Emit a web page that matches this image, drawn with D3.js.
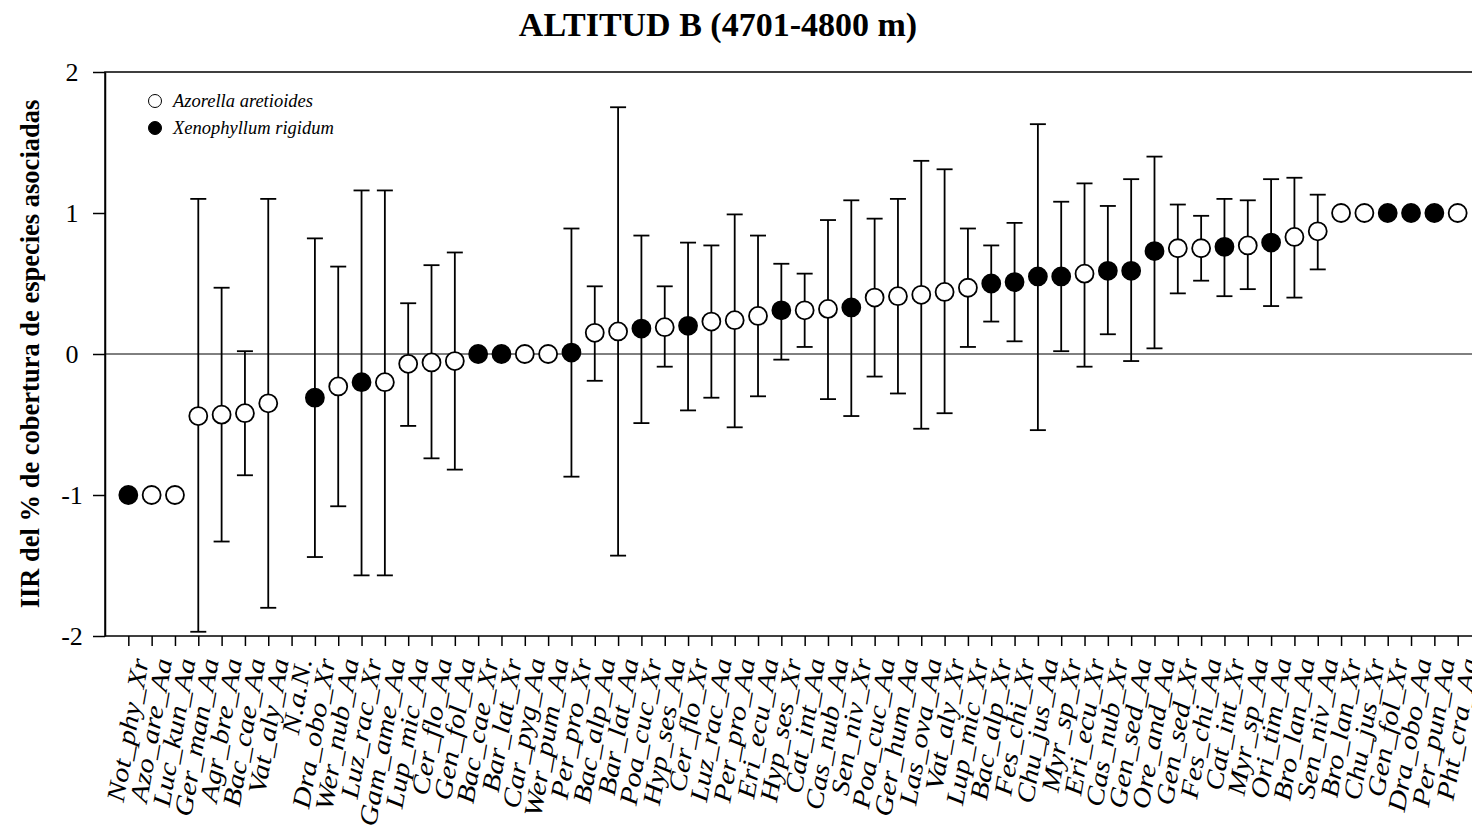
<!DOCTYPE html>
<html>
<head>
<meta charset="utf-8">
<script src="https://cdn.jsdelivr.net/npm/d3@7"></script>
<style>
    body { margin: 0; background: #fff; }
    svg { display: block; }
</style>
</head>
<body>
<div id="chart"></div>
<script>
// Species codes along the x axis (sorted by IIR)
const species = ["Not_phy_Xr", "Azo_are_Aa", "Luc_kun_Aa", "Ger_man_Aa", "Agr_bre_Aa", "Bac_cae_Aa", "Vat_aly_Aa", "N.a.N.",
    "Dra_obo_Xr", "Wer_nub_Aa", "Luz_rac_Xr", "Gam_ame_Aa", "Lup_mic_Aa", "Cer_flo_Aa", "Gen_fol_Aa", "Bac_cae_Xr",
    "Bar_lat_Xr", "Car_pyg_Aa", "Wer_pum_Aa", "Per_pro_Xr", "Bac_alp_Aa", "Bar_lat_Aa", "Poa_cuc_Xr", "Hyp_ses_Aa",
    "Cer_flo_Xr", "Luz_rac_Aa", "Per_pro_Aa", "Eri_ecu_Aa", "Hyp_ses_Xr", "Cat_int_Aa", "Cas_nub_Aa", "Sen_niv_Xr",
    "Poa_cuc_Aa", "Ger_hum_Aa", "Las_ova_Aa", "Vat_aly_Xr", "Lup_mic_Xr", "Bac_alp_Xr", "Fes_chi_Xr", "Chu_jus_Aa",
    "Myr_sp_Xr", "Eri_ecu_Xr", "Cas_nub_Xr", "Gen_sed_Aa", "Ore_and_Aa", "Gen_sed_Xr", "Fes_chi_Aa", "Cat_int_Xr",
    "Myr_sp_Aa", "Ori_tim_Aa", "Bro_lan_Aa", "Sen_niv_Aa", "Bro_lan_Xr", "Chu_jus_Xr", "Gen_fol_Xr", "Dra_obo_Aa",
    "Per_pun_Aa", "Pht_cra_Aa"];

// mean IIR
const iir = [-1, -1, -1, -0.44, -0.43, -0.42, -0.35, null,
    -0.31, -0.23, -0.20, -0.20, -0.07, -0.06, -0.05, 0,
    0, 0, 0, 0.01, 0.15, 0.16, 0.18, 0.19,
    0.20, 0.23, 0.24, 0.27, 0.31, 0.31, 0.32, 0.33,
    0.40, 0.41, 0.42, 0.44, 0.47, 0.50, 0.51, 0.55,
    0.55, 0.57, 0.59, 0.59, 0.73, 0.75, 0.75, 0.76,
    0.77, 0.79, 0.83, 0.87, 1, 1, 1, 1,
    1, 1];

// lower / upper ends of the error bars (null = no bar)
const lower = [null, null, null, -1.97, -1.33, -0.86, -1.80, null,
    -1.44, -1.08, -1.57, -1.57, -0.51, -0.74, -0.82, null,
    null, null, null, -0.87, -0.19, -1.43, -0.49, -0.09,
    -0.40, -0.31, -0.52, -0.30, -0.04, 0.05, -0.32, -0.44,
    -0.16, -0.28, -0.53, -0.42, 0.05, 0.23, 0.09, -0.54,
    0.02, -0.09, 0.14, -0.05, 0.04, 0.43, 0.52, 0.41,
    0.46, 0.34, 0.40, 0.60, null, null, null, null,
    null, null];

const upper = [null, null, null, 1.10, 0.47, 0.02, 1.10, null,
    0.82, 0.62, 1.16, 1.16, 0.36, 0.63, 0.72, null,
    null, null, null, 0.89, 0.48, 1.75, 0.84, 0.48,
    0.79, 0.77, 0.99, 0.84, 0.64, 0.57, 0.95, 1.09,
    0.96, 1.10, 1.37, 1.31, 0.89, 0.77, 0.93, 1.63,
    1.08, 1.21, 1.05, 1.24, 1.40, 1.06, 0.98, 1.10,
    1.09, 1.24, 1.25, 1.13, null, null, null, null,
    null, null];

// 1 = Xenophyllum rigidum (black), 0 = Azorella aretioides (white)
const filled = [1, 0, 0, 0, 0, 0, 0, 0,
    1, 0, 1, 0, 0, 0, 0, 1,
    1, 0, 0, 1, 0, 0, 1, 0,
    1, 0, 0, 0, 1, 0, 0, 1,
    0, 0, 0, 0, 0, 1, 1, 1,
    1, 0, 1, 1, 1, 0, 0, 1,
    0, 1, 0, 0, 0, 0, 1, 1,
    1, 0];

const yTicks = [-2, -1, 0, 1, 2];

const legendItems = [
    { name: "Azorella aretioides", fill: 0 },
    { name: "Xenophyllum rigidum", fill: 1 }
];

const width = 1472, height = 827;
const margin = { top: 72, right: -9, bottom: 191, left: 105 };
const serif = "'Liberation Serif', 'Times New Roman', serif";

const svg = d3.select("#chart").append("svg")
    .attr("width", width)
    .attr("height", height);

const x = d3.scalePoint()
    .domain(species)
    .range([margin.left, width - margin.right])
    .padding(1);

const y = d3.scaleLinear()
    .domain([-2, 2])
    .range([height - margin.bottom, margin.top]);

const rows = species.map((s, i) => ({ s, v: iir[i], lo: lower[i], hi: upper[i], f: filled[i] }));

// Title
svg.append("text")
    .attr("x", 718)
    .attr("y", 36)
    .attr("text-anchor", "middle")
    .attr("font-family", serif)
    .attr("font-weight", "bold")
    .attr("font-size", 34)
    .text("ALTITUD B (4701-4800 m)");

// Frame (right side falls off the picture)
svg.append("rect")
    .attr("x", margin.left)
    .attr("y", margin.top)
    .attr("width", width - margin.right - margin.left)
    .attr("height", y(-2) - margin.top)
    .attr("fill", "none")
    .attr("stroke", "#000")
    .attr("stroke-width", 1.5);

// zero line
svg.append("line")
    .attr("x1", margin.left)
    .attr("x2", width - margin.right)
    .attr("y1", y(0))
    .attr("y2", y(0))
    .attr("stroke", "#000")
    .attr("stroke-width", 1);

// y axis
const yAxis = svg.append("g")
    .attr("transform", `translate(${margin.left},0)`)
    .call(d3.axisLeft(y).tickValues(yTicks).tickSize(12).tickSizeOuter(0).tickFormat(d3.format("d")));
yAxis.select(".domain").attr("stroke-width", 1.5);
yAxis.selectAll(".tick line").attr("stroke-width", 1.5);
yAxis.selectAll(".tick text")
    .attr("font-family", serif)
    .attr("font-size", 26)
    .attr("text-anchor", "middle")
    .attr("x", -33)
    .attr("dy", "0.32em")
    .text(d => d < 0 ? "-" + Math.abs(d) : d);

// x axis
const xAxis = svg.append("g")
    .attr("transform", `translate(0,${y(-2)})`)
    .call(d3.axisBottom(x).tickSize(10).tickSizeOuter(0));
xAxis.select(".domain").remove();
xAxis.selectAll(".tick line").attr("stroke-width", 1.5);
xAxis.selectAll(".tick text")
    .attr("font-family", serif)
    .attr("font-style", "italic")
    .attr("font-size", 27)
    .attr("text-anchor", "end")
    .attr("y", 0)
    .attr("dy", 0)
    .attr("transform", "translate(20,24) rotate(-80) scale(1.1,0.95)");

// y axis title
svg.append("text")
    .attr("transform", `translate(39,${y(0)}) rotate(-90)`)
    .attr("text-anchor", "middle")
    .attr("font-family", serif)
    .attr("font-weight", "bold")
    .attr("font-size", 26.5)
    .text("IIR del % de cobertura de especies asociadas");

// Error bars
const bars = svg.append("g")
    .attr("stroke", "#000")
    .attr("stroke-width", 1.8)
    .selectAll("g")
    .data(rows.filter(d => d.lo != null))
    .join("g");

bars.append("line")
    .attr("x1", d => x(d.s))
    .attr("x2", d => x(d.s))
    .attr("y1", d => y(d.lo))
    .attr("y2", d => y(d.hi));

bars.selectAll(".cap")
    .data(d => [[d.s, d.lo], [d.s, d.hi]])
    .join("line")
    .attr("class", "cap")
    .attr("x1", d => x(d[0]) - 8)
    .attr("x2", d => x(d[0]) + 8)
    .attr("y1", d => y(d[1]))
    .attr("y2", d => y(d[1]));

// Points
svg.append("g")
    .selectAll("circle")
    .data(rows.filter(d => d.v != null))
    .join("circle")
    .attr("cx", d => x(d.s))
    .attr("cy", d => y(d.v))
    .attr("r", 9)
    .attr("fill", d => d.f ? "#000" : "#fff")
    .attr("stroke", "#000")
    .attr("stroke-width", 1.8);

// Legend
const legend = svg.append("g")
    .selectAll("g")
    .data(legendItems)
    .join("g")
    .attr("transform", (d, i) => `translate(155,${101 + i * 27})`);

legend.append("circle")
    .attr("r", 6.5)
    .attr("fill", d => d.fill ? "#000" : "#fff")
    .attr("stroke", "#000")
    .attr("stroke-width", 1);

legend.append("text")
    .attr("x", 18)
    .attr("dy", "0.35em")
    .attr("font-family", serif)
    .attr("font-style", "italic")
    .attr("font-size", 18.5)
    .text(d => d.name);
</script>
</body>
</html>
